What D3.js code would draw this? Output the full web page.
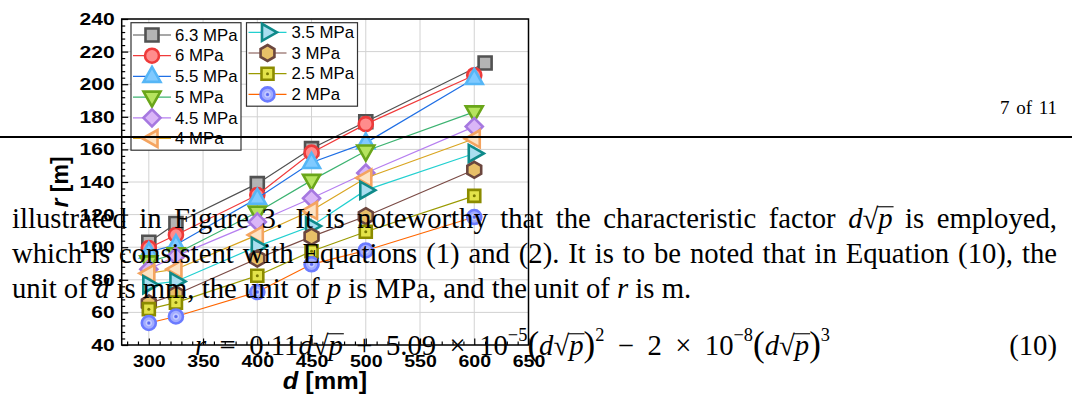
<!DOCTYPE html>
<html>
<head>
<meta charset="utf-8">
<script src="https://cdn.jsdelivr.net/npm/d3@7"></script>
<style>
  body { margin: 0; background: #fff; }
  svg { display: block; }
</style>
</head>
<body>
<svg id="fig" width="1072" height="403"></svg>
<script>
// ---- data ----
const pressureLabels = ["6.3 MPa", "6 MPa", "5.5 MPa", "5 MPa", "4.5 MPa", "4 MPa", "3.5 MPa", "3 MPa", "2.5 MPa", "2 MPa"];
const diameters   = [300, 325, 400, 450, 500, 600];
const diameters63 = [300, 325, 400, 450, 500, 610];
const r63 = [103, 114.5, 139, 160.5, 177, 213];
const r60 = [99.5, 107.5, 132, 158, 175.5, 205.5];
const r55 = [97, 101.5, 130, 152, 164, 203.5];
const r50 = [91, 96, 121.5, 141, 159, 183];
const r45 = [86.5, 94.5, 115.5, 130, 145.5, 174];
const r40 = [84, 86.5, 107.5, 122.5, 142.5, 166.5];
const r35 = [77, 79, 100.5, 113, 135, 157.5];
const r30 = [65.5, 71, 93, 106.5, 119, 147.5];
const r25 = [62, 66, 82.5, 97.5, 109.5, 131.5];
const r20 = [53.5, 57.5, 72.5, 89.5, 98, 118.5];
const xTicks = [300, 350, 400, 450, 500, 550, 600, 650];
const yTicks = [40, 60, 80, 100, 120, 140, 160, 180, 200, 220, 240];

// ---- styling per series ----
const styles = [
  { shape: "square", line: "#505050", fill: "#b4b4b4", stroke: "#525252" },
  { shape: "circle", line: "#f03a3a", fill: "#ff8c8c", stroke: "#ee3a3a" },
  { shape: "up",     line: "#1f6fe5", fill: "#80caff", stroke: "#56b6f6" },
  { shape: "down",   line: "#3cb371", fill: "#b6e45e", stroke: "#6aa61a" },
  { shape: "diamond",line: "#b67ff0", fill: "#dab6f7", stroke: "#a678e0" },
  { shape: "left",   line: "#d9a520", fill: "#fde3c4", stroke: "#f4a460" },
  { shape: "right",  line: "#22d0d0", fill: "#a9def0", stroke: "#0f8a8a" },
  { shape: "hex",    line: "#7b4b45", fill: "#e8c068", stroke: "#6b463e" },
  { shape: "sq2",    line: "#9a9a00", fill: "#e3e34a", stroke: "#8b8b00", dot: "#7a7a00" },
  { shape: "circ2",  line: "#ff6600", fill: "#a3acff", stroke: "#6b7bff", dot: "#5a6af0" }
];
const seriesValues = [r63, r60, r55, r50, r45, r40, r35, r30, r25, r20];
const seriesX = [diameters63, diameters, diameters, diameters, diameters, diameters, diameters, diameters, diameters, diameters];

const sans = "'Liberation Sans', Arial, Helvetica, sans-serif";
const serif = "'Liberation Serif', 'Times New Roman', serif";

const svg = d3.select("#fig");
const x = d3.scaleLinear().domain([275, 650]).range([121.7, 528.5]);
const y = d3.scaleLinear().domain([40, 240]).range([345, 19]);

// ---- grid ----
const grid = svg.append("g").attr("stroke", "#d2d2d2").attr("stroke-width", 1);
grid.selectAll("line.gx").data(xTicks).join("line").attr("class", "gx")
  .attr("x1", d => x(d)).attr("x2", d => x(d)).attr("y1", y(40)).attr("y2", y(240));
grid.selectAll("line.gy").data(yTicks).join("line").attr("class", "gy")
  .attr("x1", x(275)).attr("x2", x(650)).attr("y1", d => y(d)).attr("y2", d => y(d));

// ---- marker shapes ----
function shapePath(shape) {
  switch (shape) {
    case "square": return "M-6.5,-6.5H6.5V6.5H-6.5Z";
    case "sq2": return "M-6,-6H6V6H-6Z";
    case "up": return "M0,-9.5L8.5,5.5L-8.5,5.5Z";
    case "down": return "M0,9.5L8.5,-5.5L-8.5,-5.5Z";
    case "diamond": return "M0,-8.5L8.5,0L0,8.5L-8.5,0Z";
    case "left": return "M-9.5,0L5.5,-8.5L5.5,8.5Z";
    case "right": return "M9.5,0L-5.5,-8.5L-5.5,8.5Z";
    case "hex": {
      const pts = d3.range(6).map(i => {
        const a = (-90 + i * 60) * Math.PI / 180;
        return [8 * Math.cos(a), 8 * Math.sin(a)];
      });
      return "M" + pts.map(p => p.join(",")).join("L") + "Z";
    }
  }
  return null;
}
function drawMarker(g, st) {
  if (st.shape === "circle" || st.shape === "circ2") {
    g.append("circle").attr("r", 7).attr("fill", st.fill).attr("stroke", st.stroke).attr("stroke-width", 2.6);
  } else {
    g.append("path").attr("d", shapePath(st.shape)).attr("fill", st.fill)
      .attr("stroke", st.stroke).attr("stroke-width", 2.6).attr("stroke-linejoin", "miter");
  }
  if (st.dot) {
    if (st.shape === "circ2") {
      g.append("circle").attr("r", 2.6).attr("fill", "none").attr("stroke", "#c8ceff").attr("stroke-width", 1.2);
    }
    g.append("circle").attr("r", 1.5).attr("fill", st.dot);
  }
}

// ---- series ----
const line = d3.line().x(d => x(d[0])).y(d => y(d[1]));
const plot = svg.append("g");
seriesValues.forEach((vals, i) => {
  const st = styles[i];
  const pts = vals.map((v, j) => [seriesX[i][j], v]);
  const g = plot.append("g");
  g.append("path").attr("d", line(pts)).attr("fill", "none").attr("stroke", st.line).attr("stroke-width", 1.2);
  pts.forEach(p => {
    const m = g.append("g").attr("transform", `translate(${x(p[0])},${y(p[1])})`);
    drawMarker(m, st);
  });
});

// ---- axes ----
function stretchText(sel, sx) {
  sel.attr("transform", function () {
    const tx = +this.getAttribute("x") || 0;
    return `translate(${tx},0) scale(${sx},1) translate(${-tx},0)`;
  });
}
const yMinor = d3.range(40, 241, 4).filter(v => v % 20 !== 0);
const xMinor = d3.range(280, 651, 10).filter(v => v % 50 !== 0);

const gyMinor = svg.append("g").attr("transform", `translate(${x(275)},0)`)
  .call(d3.axisLeft(y).tickValues(yMinor).tickSize(-3.5).tickFormat(""));
const gy = svg.append("g").attr("transform", `translate(${x(275)},0)`)
  .call(d3.axisLeft(y).tickValues(yTicks).tickSize(-6.5).tickPadding(7));
const gxMinor = svg.append("g").attr("transform", `translate(0,${y(40)})`)
  .call(d3.axisBottom(x).tickValues(xMinor).tickSize(-3.5).tickFormat(""));
const gx = svg.append("g").attr("transform", `translate(0,${y(40)})`)
  .call(d3.axisBottom(x).tickValues(xTicks).tickSize(-6.5).tickPadding(10));

[gy, gx, gyMinor, gxMinor].forEach(a => {
  a.select(".domain").remove();
  a.selectAll("line").attr("stroke", "#000").attr("stroke-width", 1.2);
});
[gy, gx].forEach(a => {
  a.selectAll("text").attr("font-family", sans).attr("font-weight", "bold")
    .attr("font-size", 17).attr("fill", "#000");
});
stretchText(gy.selectAll("text"), 1.24);
stretchText(gx.selectAll("text"), 1.15);

// frame
svg.append("rect").attr("x", x(275)).attr("y", y(240))
  .attr("width", x(650) - x(275)).attr("height", y(40) - y(240))
  .attr("fill", "none").attr("stroke", "#000").attr("stroke-width", 1.5);

// axis titles
const yTitle = svg.append("text").attr("transform", "translate(68,182) rotate(-90)")
  .attr("text-anchor", "middle").attr("font-family", sans).attr("font-weight", "bold")
  .attr("font-size", 23).attr("fill", "#000");
yTitle.append("tspan").attr("font-style", "italic").text("r");
yTitle.append("tspan").text(" [m]");

const xTitle = svg.append("text").attr("x", 0).attr("y", 0)
  .attr("transform", "translate(325,389) scale(1.1,1)")
  .attr("text-anchor", "middle").attr("font-family", sans).attr("font-weight", "bold")
  .attr("font-size", 23).attr("fill", "#000");
xTitle.append("tspan").attr("font-style", "italic").text("d");
xTitle.append("tspan").text(" [mm]");

// ---- legends ----
function legendBox(x0, y0, w, h, rows, rowY0, rowStep, offset) {
  const g = svg.append("g");
  g.append("rect").attr("x", x0).attr("y", y0).attr("width", w).attr("height", h)
    .attr("fill", "#fff").attr("stroke", "#333").attr("stroke-width", 1.2);
  rows.forEach((idx, k) => {
    const cy = rowY0 + k * rowStep;
    const st = styles[idx];
    g.append("line").attr("x1", x0 + 2).attr("x2", x0 + 40).attr("y1", cy).attr("y2", cy)
      .attr("stroke", st.line).attr("stroke-width", 1.2);
    drawMarker(g.append("g").attr("transform", `translate(${x0 + 21},${cy})`), st);
    const t = g.append("text").attr("x", x0 + offset).attr("y", cy).attr("dy", "0.36em")
      .attr("font-family", sans).attr("font-size", 16).attr("fill", "#000")
      .text(pressureLabels[idx]);
    stretchText(t, 1.05);
  });
}
legendBox(131, 22.7, 110, 127.5, [0, 1, 2, 3, 4, 5], 35, 20.7, 44);
legendBox(246.5, 22.7, 111, 83.5, [6, 7, 8, 9], 32.3, 20.7, 45);

// ---- page text layer ----
const page = svg.append("g").attr("fill", "#000");
page.append("line").attr("x1", 0).attr("x2", 1072).attr("y1", 137).attr("y2", 137)
  .attr("stroke", "#000").attr("stroke-width", 2);
page.append("text").attr("x", 1057).attr("y", 114).attr("text-anchor", "end")
  .attr("font-family", serif).attr("font-size", 19).attr("word-spacing", 2).text("7 of 11");

// a token is a list of segments rendered as one <text>
function makeToken(g, segs, fs) {
  const t = g.append("text").attr("font-family", serif).attr("font-size", fs);
  let idx = 0, cur = 0;
  const rads = [];
  let pending = null;
  segs.forEach(s => {
    const ts = t.append("tspan").text(s.t);
    let target = 0;
    let size = fs;
    if (s.sup) { target = -0.5 * fs; size = 0.64 * fs; }
    if (s.big) { size = 1.22 * fs; target = 0.03 * fs; }
    ts.attr("font-size", size);
    if (target !== cur) { ts.attr("dy", target - cur); cur = target; }
    if (s.i) ts.attr("font-style", "italic");
    if (s.rad) pending = { rad: idx };
    if (s.over && pending) { pending.start = idx; pending.end = idx + s.t.length - 1; rads.push(pending); pending = null; }
    idx += [...s.t].length;
  });
  return { sel: t, rads };
}
function layoutLine(tokens, x0, x1, baseline, fs, justify) {
  const g = page.append("g");
  const toks = tokens.map(tok => makeToken(g, typeof tok === "string" ? [{ t: tok }] : tok, fs));
  const widths = toks.map(t => t.sel.node().getComputedTextLength());
  const total = d3.sum(widths);
  const gap = justify ? (x1 - x0 - total) / (toks.length - 1) : 0.25 * fs;
  let xp = x0;
  toks.forEach((t, i) => {
    t.sel.attr("x", xp).attr("y", baseline);
    xp += widths[i] + gap;
  });
  toks.forEach(t => {
    const n = t.sel.node();
    t.rads.forEach(r => {
      const rb = n.getExtentOfChar(r.rad);
      const xe = n.getEndPositionOfChar(r.end).x;
      const yTop = baseline - 0.74 * fs;
      g.append("line").attr("x1", rb.x + rb.width - 1).attr("x2", xe + 1)
        .attr("y1", yTop).attr("y2", yTop).attr("stroke", "#000").attr("stroke-width", 1.1);
    });
  });
}
const FS = 28.7;
const dSqrtP = [{ t: "d", i: 1 }, { t: "√", rad: 1 }, { t: "p", i: 1, over: 1 }];
layoutLine(["illustrated", "in", "Figure", "3.", "It", "is", "noteworthy", "that", "the",
  "characteristic", "factor", dSqrtP, "is", "employed,"], 12, 1057, 228, FS, true);
layoutLine(["which", "is", "consistent", "with", "Equations", "(1)", "and", "(2).", "It", "is", "to",
  "be", "noted", "that", "in", "Equation", "(10),", "the"], 12, 1057, 263, FS, true);
layoutLine(["unit", "of", [{ t: "d", i: 1 }], "is", "mm,", "the", "unit", "of", [{ t: "p", i: 1 }],
  "is", "MPa,", "and", "the", "unit", "of", [{ t: "r", i: 1 }], "is", "m."], 12, 1057, 298, FS, false);

layoutLine([
  [{ t: "r", i: 1 }], "=",
  [{ t: "0.11" }, { t: "d", i: 1 }, { t: "√", rad: 1 }, { t: "p", i: 1, over: 1 }],
  "+", "5.09", "×",
  [{ t: "10" }, { t: "−5", sup: 1 }, { t: "(", big: 1 }, { t: "d", i: 1 }, { t: "√", rad: 1 }, { t: "p", i: 1, over: 1 }, { t: ")", big: 1 }, { t: "2", sup: 1 }],
  "−", "2", "×",
  [{ t: "10" }, { t: "−8", sup: 1 }, { t: "(", big: 1 }, { t: "d", i: 1 }, { t: "√", rad: 1 }, { t: "p", i: 1, over: 1 }, { t: ")", big: 1 }, { t: "3", sup: 1 }]
], 195, 830, 355, FS, true);
page.append("text").attr("x", 1057).attr("y", 355).attr("text-anchor", "end")
  .attr("font-family", serif).attr("font-size", FS).text("(10)");
</script>
</body>
</html>
